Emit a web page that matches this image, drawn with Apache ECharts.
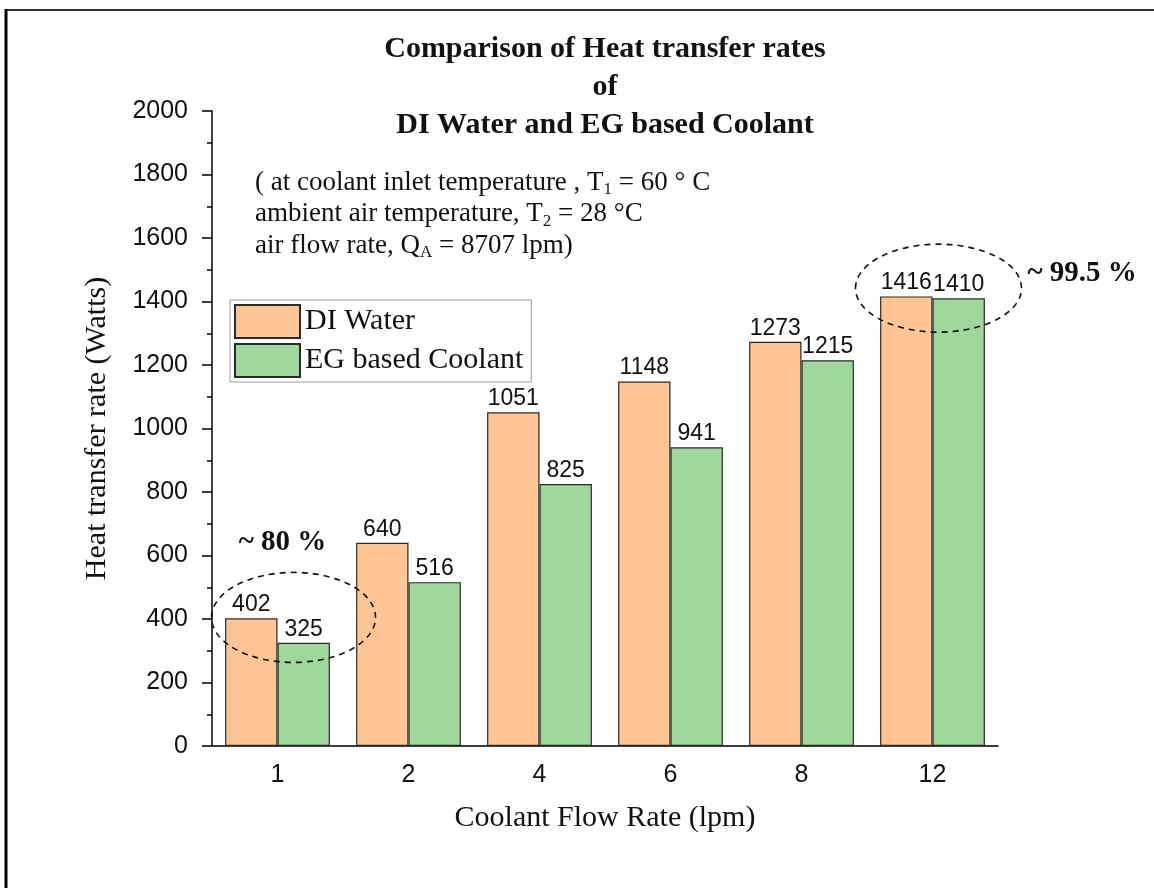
<!DOCTYPE html>
<html>
<head>
<meta charset="utf-8">
<script src="https://cdn.jsdelivr.net/npm/echarts@6/dist/echarts.min.js"></script>
<style>
  html, body { margin: 0; padding: 0; background: #fff; }
  #chart { width: 1154px; height: 888px; }
</style>
</head>
<body>
<div id="chart"></div>
<script>
// Coolant flow rates (lpm) and measured heat transfer rates (W)
const flowRates = ['1', '2', '4', '6', '8', '12'];
const diWater = [402, 640, 1051, 1148, 1273, 1416];
const egCoolant = [325, 516, 825, 941, 1215, 1410];
const seriesNames = ['DI Water', 'EG based Coolant'];

const SERIF = '"Liberation Serif", "Times New Roman", serif';
const SANS = '"Liberation Sans", Arial, sans-serif';

const chart = echarts.init(document.getElementById('chart'), null, { renderer: 'canvas' });

const barStyle = (color) => ({ color: color, borderColor: '#2a2a2a', borderWidth: 1.2 });
const barLabel = {
  show: true, position: 'top', distance: 2,
  fontFamily: SANS, fontSize: 23, color: '#111'
};

const option = {
  backgroundColor: '#fff',
  animation: false,
  grid: { left: 212, right: 156, top: 111, bottom: 142, containLabel: false },
  legend: {
    left: 230, top: 300, orient: 'vertical',
    icon: 'rect',
    itemWidth: 65, itemHeight: 33, itemGap: 4,
    padding: [4, 8, 4, 4],
    borderColor: '#999', borderWidth: 1,
    textStyle: { fontFamily: SERIF, fontSize: 30, color: '#111' },
    data: seriesNames
  },
  xAxis: [
    {
      type: 'category', data: flowRates, boundaryGap: true,
      name: 'Coolant Flow Rate (lpm)', nameLocation: 'middle', nameGap: 57,
      nameTextStyle: { fontFamily: SERIF, fontSize: 30, color: '#111' },
      axisLine: { lineStyle: { color: '#000', width: 1.5 } },
      axisTick: { alignWithLabel: true, length: 11, lineStyle: { color: '#000', width: 1.5 } },
      axisLabel: { fontFamily: SANS, fontSize: 25, color: '#111', margin: 17 },
      splitLine: { show: false }
    },
    {
      // short ticks on category boundaries
      type: 'category', data: flowRates, boundaryGap: true, position: 'bottom',
      axisLine: { show: false },
      axisTick: { alignWithLabel: false, length: 6, lineStyle: { color: '#000', width: 1.5 } },
      axisLabel: { show: false },
      splitLine: { show: false }
    }
  ],
  yAxis: {
    type: 'value', min: 0, max: 2000, interval: 200,
    name: 'Heat transfer rate (Watts)', nameLocation: 'middle', nameGap: 100,
    nameTextStyle: { fontFamily: SERIF, fontSize: 30, color: '#111' },
    axisLine: { show: true, lineStyle: { color: '#000', width: 1.5 } },
    axisTick: { show: true, length: 10, lineStyle: { color: '#000', width: 1.5 } },
    minorTick: { show: true, splitNumber: 2, length: 5, lineStyle: { color: '#000', width: 1.5 } },
    axisLabel: { fontFamily: SANS, fontSize: 25, color: '#111', margin: 24, formatter: (v) => String(v) },
    splitLine: { show: false }
  },
  series: [
    {
      name: seriesNames[0], type: 'bar', data: diWater,
      barGap: '0%', barCategoryGap: '20%',
      itemStyle: barStyle('#FFC595'), label: barLabel
    },
    {
      name: seriesNames[1], type: 'bar', data: egCoolant,
      barGap: '0%', barCategoryGap: '20%',
      itemStyle: barStyle('#9FD79C'), label: barLabel
    }
  ]
};

chart.setOption(option);

// Annotations placed in data coordinates
const px = (cat, val) => chart.convertToPixel({ gridIndex: 0 }, [cat, val]);
const lowCenter = px(0, 405);
const highCenter = px(5, 1442);
const dash = { fill: 'none', stroke: '#111', lineWidth: 1.6, lineDash: [6, 5] };

const infoRich = {
  sub: { fontFamily: SERIF, fontSize: 17, lineHeight: 26, verticalAlign: 'bottom', color: '#111' }
};

chart.setOption({
  graphic: [
    // page frame
    { type: 'line', shape: { x1: 5, y1: 10, x2: 1154, y2: 10 }, style: { stroke: '#333', lineWidth: 2 } },
    { type: 'line', shape: { x1: 6, y1: 9, x2: 6, y2: 888 }, style: { stroke: '#000', lineWidth: 3 } },
    // title
    {
      type: 'text', x: 605, y: 30,
      style: {
        text: 'Comparison of Heat transfer rates\nof\nDI Water and EG based Coolant',
        fontFamily: SERIF, fontWeight: 'bold', fontSize: 30, lineHeight: 38,
        fill: '#111', align: 'center', verticalAlign: 'top'
      }
    },
    // operating conditions
    {
      type: 'text', x: 255, y: 167,
      style: {
        text: '( at coolant inlet temperature , T{sub|1} = 60 ° C\nambient air temperature, T{sub|2} = 28 °C\nair flow rate, Q{sub|A} = 8707 lpm)',
        rich: infoRich,
        fontFamily: SERIF, fontSize: 27, lineHeight: 31.5, fill: '#111',
        align: 'left', verticalAlign: 'top'
      }
    },
    // comparison ellipses
    { type: 'ellipse', shape: { cx: lowCenter[0] + 16, cy: lowCenter[1], rx: 82, ry: 45 }, style: dash, z: 10 },
    { type: 'ellipse', shape: { cx: highCenter[0] + 6, cy: highCenter[1], rx: 83, ry: 44 }, style: dash, z: 10 },
    {
      type: 'text', x: lowCenter[0] + 5, y: lowCenter[1] - 75,
      style: { text: '~ 80 %', fontFamily: SERIF, fontWeight: 'bold', fontSize: 29, fill: '#111', align: 'center', verticalAlign: 'middle' }
    },
    {
      type: 'text', x: highCenter[0] + 95, y: highCenter[1] - 15,
      style: { text: '~ 99.5 %', fontFamily: SERIF, fontWeight: 'bold', fontSize: 29, fill: '#111', align: 'left', verticalAlign: 'middle' }
    }
  ]
});
</script>
</body>
</html>
